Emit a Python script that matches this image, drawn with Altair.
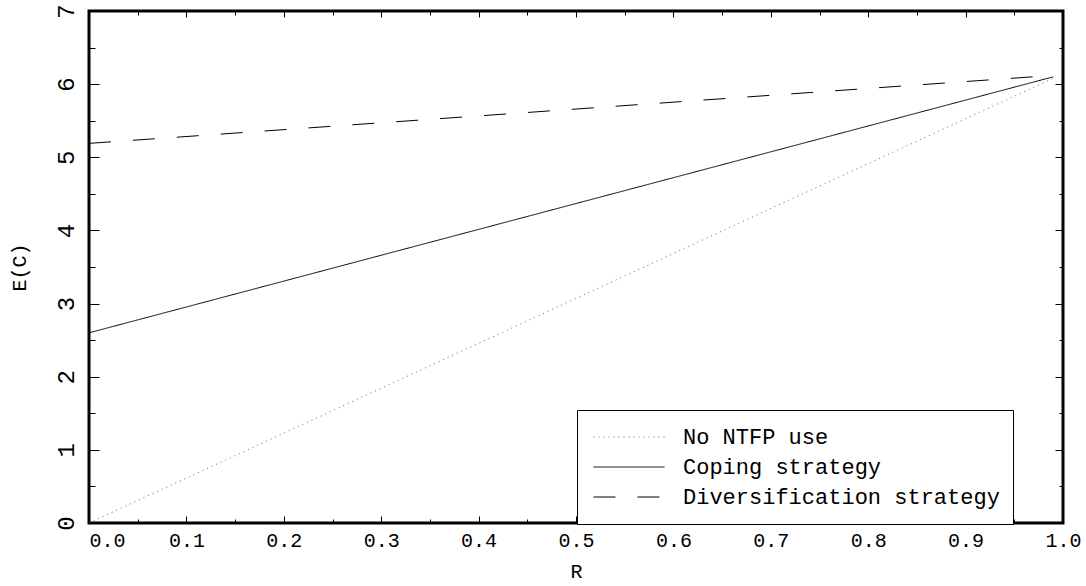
import altair as alt
import pandas as pd

# ---- data ----
R = [0.0, 0.99]
no_ntfp = [0.0, 6.08]
coping = [2.60, 6.10]
diversification = [5.19, 6.12]
series = ["No NTFP use", "Coping strategy", "Diversification strategy"]

x_major = [0.0, 0.1, 0.2, 0.3, 0.4, 0.5, 0.6, 0.7, 0.8, 0.9, 1.0]
x_minor = [0.05, 0.15, 0.25, 0.35, 0.45, 0.55, 0.65, 0.75, 0.85, 0.95]
y_major = [0, 1, 2, 3, 4, 5, 6, 7]
y_minor = [0.5, 1.5, 2.5, 3.5, 4.5, 5.5, 6.5]

rows = []
for name, vals in zip(series, [no_ntfp, coping, diversification]):
    for r, v in zip(R, vals):
        rows.append({"R": r, "E": v, "Strategy": name})
df = pd.DataFrame(rows)

FONT = "Liberation Mono"
W, H = 974, 512

xscale = alt.Scale(domain=[0, 1], nice=False, zero=False)
yscale = alt.Scale(domain=[0, 7], nice=False)


def tick_axis(orient, values, size):
    return alt.Axis(orient=orient, values=values, offset=-size, tickSize=size,
                    labels=False, title=None, domain=False, grid=False,
                    tickColor="black", tickWidth=1)


legend = alt.Legend(title=None, orient="none", legendX=488, legendY=399,
                    symbolType="stroke", symbolSize=5041, symbolStrokeWidth=1,
                    clipHeight=28, labelFont=FONT, labelFontSize=22,
                    labelColor="black", labelOffset=18, padding=13,
                    symbolOffset=3,
                    strokeColor="black", fillColor="white", labelLimit=600)

lines = alt.Chart(df).mark_line(strokeWidth=1).encode(
    x=alt.X("R:Q", scale=xscale, axis=alt.Axis(
        orient="bottom", values=x_major, format=".1f", offset=-7, tickSize=7,
        domain=False, grid=False, tickColor="black", tickWidth=1,
        labelPadding=7, labelFont=FONT, labelFontSize=20, labelColor="black",
        labelFlush=False,
        labelAlign={"condition": {"test": "datum.value == 0", "value": "left"},
                    "value": "center"},
        title="R", titleFont=FONT, titleFontSize=20, titleFontWeight="normal",
        titleColor="black", titlePadding=11)),
    y=alt.Y("E:Q", scale=yscale, axis=alt.Axis(
        orient="left", values=y_major, format="d", offset=-10, tickSize=10,
        domain=False, grid=False, tickColor="black", tickWidth=1,
        labelPadding=11, labelAngle=270, labelAlign="center",
        labelBaseline="bottom", labelFont=FONT, labelFontSize=24,
        labelColor="black",
        title="E(C)", titleFont=FONT, titleFontSize=20,
        titleFontWeight="normal", titleColor="black", titlePadding=25)),
    color=alt.Color("Strategy:N", scale=alt.Scale(
        domain=series, range=["#666666", "black", "black"]), legend=legend),
    strokeDash=alt.StrokeDash("Strategy:N", scale=alt.Scale(
        domain=series, range=[[1, 4], [1, 0], [22, 22]]), legend=legend),
)


def ghost(xaxis, yaxis):
    return alt.Chart(df).mark_point(opacity=0).encode(
        x=alt.X("R:Q", scale=xscale, axis=xaxis),
        y=alt.Y("E:Q", scale=yscale, axis=yaxis))


g2 = ghost(tick_axis("bottom", x_minor, 4), tick_axis("left", y_minor, 6))
g3 = ghost(tick_axis("top", x_major, 6), tick_axis("right", y_major, 8))
g4 = ghost(tick_axis("top", x_minor, 4), tick_axis("right", y_minor, 4))

chart = alt.layer(lines, g2, g3, g4).resolve_axis(
    x="independent", y="independent"
).properties(
    width=W, height=H,
    padding={"left": 89, "top": 11, "right": 23, "bottom": 63},
    autosize=alt.AutoSizeParams(type="none"),
    background="white",
).configure_view(stroke="black", strokeWidth=3)

chart.save("out.html", embed_options={"renderer": "svg", "actions": False})
